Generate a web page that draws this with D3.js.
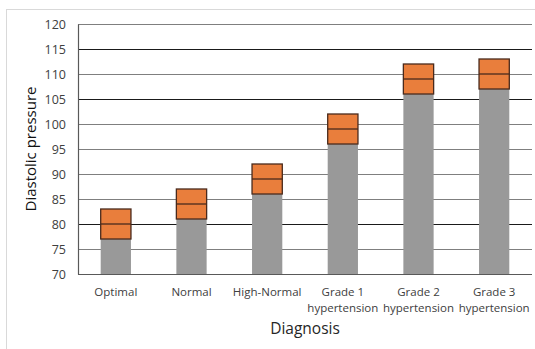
<!DOCTYPE html>
<html>
<head>
<meta charset="utf-8">
<script src="https://cdn.jsdelivr.net/npm/d3@7"></script>
<style>
  html, body { margin: 0; padding: 0; background: #fff; }
  svg { display: block; }
  text { font-family: "Open Sans", "Noto Sans", sans-serif; }
</style>
</head>
<body>
<svg id="chart" width="535" height="349"></svg>
<script>
// Diastolic pressure ranges by diagnosis
const categories = ["Optimal", "Normal", "High-Normal", "Grade 1\nhypertension", "Grade 2\nhypertension", "Grade 3\nhypertension"];
const rangeLow  = [77, 81, 86, 96, 106, 107];
const rangeMid  = [80, 84, 89, 99, 109, 110];
const rangeHigh = [83, 87, 92, 102, 112, 113];
const yTicks = [70, 75, 80, 85, 90, 95, 100, 105, 110, 115, 120];

const svg = d3.select("#chart");
const margin = { left: 78, right: 3, top: 24, bottom: 75 };
const W = 535, H = 349;

// outer chart frame
svg.append("rect")
  .attr("x", 6.5).attr("y", 9.5)
  .attr("width", 540).attr("height", 350)
  .attr("fill", "#fff").attr("stroke", "#d9d9d9").attr("stroke-width", 1);

const x = d3.scaleBand()
  .domain(categories)
  .range([margin.left, W - margin.right])
  .paddingInner(0.6).paddingOuter(0.3);

const y = d3.scaleLinear()
  .domain([70, 120])
  .range([H - margin.bottom, margin.top]);

// horizontal gridlines
const darkLines = new Set([115, 105, 80]);
svg.append("g")
  .selectAll("line")
  .data(yTicks.filter(t => t > 70))
  .join("line")
  .attr("x1", margin.left).attr("x2", W - margin.right)
  .attr("y1", d => Math.round(y(d)) + 0.5).attr("y2", d => Math.round(y(d)) + 0.5)
  .attr("stroke", d => darkLines.has(d) ? "#1a1a1a" : "#7f7f7f")
  .attr("stroke-width", 1.2);

// y axis
const yAxis = svg.append("g")
  .attr("transform", `translate(${margin.left},0)`)
  .call(d3.axisLeft(y).tickValues(yTicks).tickSize(0).tickPadding(12));
yAxis.select(".domain").attr("stroke", "#595959").attr("stroke-width", 1.2);
yAxis.selectAll("text")
  .attr("font-size", 12.5).attr("fill", "#404040")
  .attr("font-family", "'Open Sans', sans-serif");

// base (gray) bars from 70 up to the low end of the range
const data = categories.map((c, i) => ({ c, lo: rangeLow[i], mid: rangeMid[i], hi: rangeHigh[i] }));

svg.append("g").selectAll("rect")
  .data(data)
  .join("rect")
  .attr("x", d => x(d.c))
  .attr("width", x.bandwidth())
  .attr("y", d => y(d.lo))
  .attr("height", d => y(70) - y(d.lo))
  .attr("fill", "#999999");

// range boxes
const box = svg.append("g");
box.selectAll("rect")
  .data(data)
  .join("rect")
  .attr("x", d => x(d.c))
  .attr("width", x.bandwidth())
  .attr("y", d => y(d.hi))
  .attr("height", d => y(d.lo) - y(d.hi))
  .attr("fill", "#E97E3C")
  .attr("stroke", "#4a2a1c")
  .attr("stroke-width", 1.3);

box.selectAll("line")
  .data(data)
  .join("line")
  .attr("x1", d => x(d.c)).attr("x2", d => x(d.c) + x.bandwidth())
  .attr("y1", d => y(d.mid)).attr("y2", d => y(d.mid))
  .attr("stroke", "#4a2a1c")
  .attr("stroke-width", 1.3);

// x axis baseline
svg.append("line")
  .attr("x1", margin.left).attr("x2", W - margin.right)
  .attr("y1", y(70) + 0.5).attr("y2", y(70) + 0.5)
  .attr("stroke", "#595959").attr("stroke-width", 1.2);

// category labels
svg.append("g").selectAll("text")
  .data(categories)
  .join("text")
  .attr("text-anchor", "middle")
  .attr("font-size", 11.5)
  .attr("fill", "#404040")
  .attr("transform", d => `translate(${x(d) + x.bandwidth() / 2},${y(70) + 22})`)
  .each(function(d) {
    d.split("\n").forEach((line, k) => {
      d3.select(this).append("tspan")
        .attr("x", 0).attr("dy", k === 0 ? 0 : 15.5)
        .text(line);
    });
  });

// axis titles
svg.append("text")
  .attr("x", (margin.left + W - margin.right) / 2)
  .attr("y", 334)
  .attr("text-anchor", "middle")
  .attr("font-size", 15.5)
  .attr("fill", "#262626")
  .text("Diagnosis");

svg.append("text")
  .attr("transform", `translate(36,${(y(70) + y(120)) / 2}) rotate(-90)`)
  .attr("text-anchor", "middle")
  .attr("font-size", 15)
  .attr("font-weight", 500)
  .attr("fill", "#111")
  .text("Diastolic pressure");
</script>
</body>
</html>
